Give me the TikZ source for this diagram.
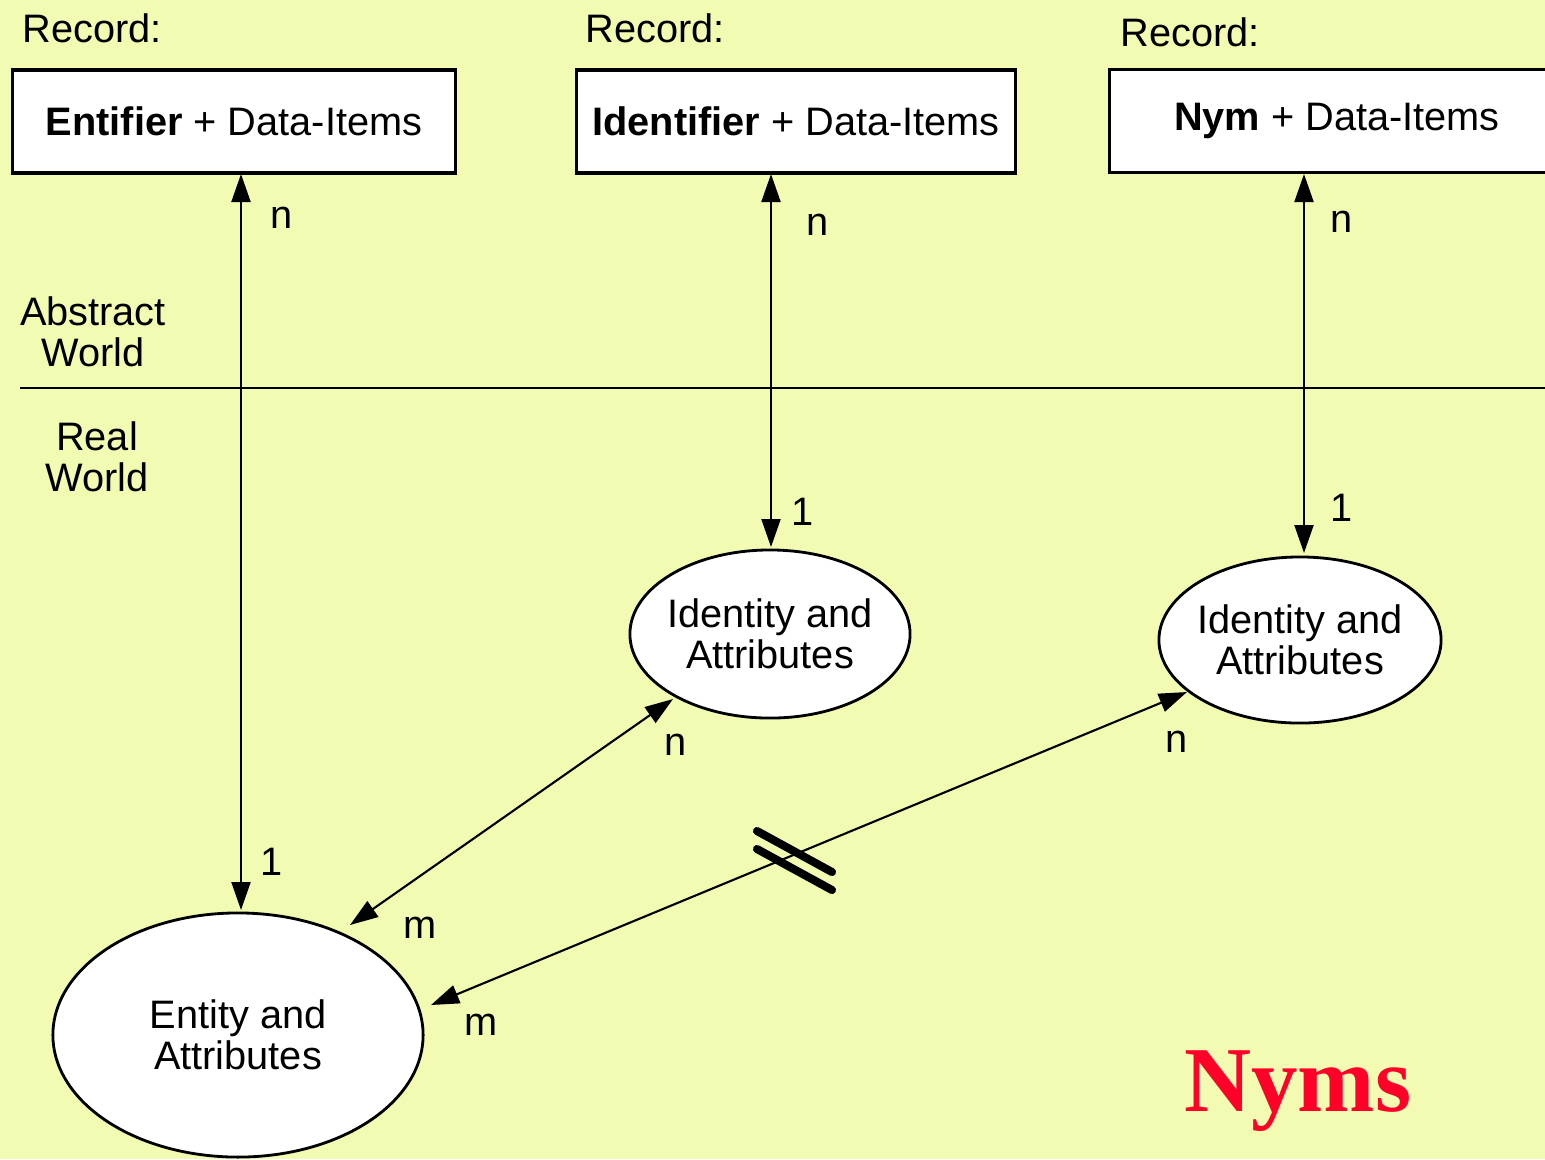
\documentclass[tikz,border=0pt]{standalone}
\usepackage{fontspec}
\setmainfont{Liberation Sans}
\newfontfamily\nymsfont{Liberation Serif}
\usetikzlibrary{shapes.geometric,arrows.meta}
\definecolor{bgyellow}{RGB}{243,250,178}
\definecolor{nymred}{RGB}{255,0,40}
\begin{document}
\begin{tikzpicture}[x=0.01cm,y=-0.01cm,
  txt/.style={font=\fontsize{11.3}{11.6}\selectfont, inner sep=0pt, align=center},
  recbox/.style={draw, line width=0.9pt, fill=white, rectangle, minimum height=1.03cm, inner sep=0pt, font=\fontsize{11.3}{11.6}\selectfont},
  ell/.style={draw, line width=0.8pt, fill=white, ellipse, inner xsep=-0.1cm, inner ysep=0pt, font=\fontsize{11.3}{11.6}\selectfont, align=center},
  conn/.style={line width=0.6pt, {Triangle[length=0.28cm,width=0.19cm]}-{Triangle[length=0.28cm,width=0.19cm]}},
  bar/.style={line width=2.3pt, line cap=round}]
\clip (0,0) rectangle (1545,1159);
\fill[bgyellow] (0,0) rectangle (1545,1159);

% boxes
\node[recbox, minimum width=4.42cm] (b1) at (234,121.5) {\textbf{Entifier} + Data-Items\hspace{0.13cm}};
\node[recbox, minimum width=4.38cm] (b2) at (796,121.5) {\textbf{Identifier} + Data-Items\hspace{0.18cm}};
\node[recbox, minimum width=4.54cm] (b3) at (1337,121) {\textbf{Nym} + Data-Items};

\node[txt, anchor=west] (r1) at (22,28) {Record:};
\node[txt, anchor=west] (r2) at (585,28) {Record:};
\node[txt, anchor=west] (r3) at (1120,32) {Record:};

% world divider
\coordinate (hl) at (20,388);
\coordinate (hr) at (1545,388);
\draw[line width=0.6pt] (hl) -- (hr);
\node[txt] (aw) at (93,332) {Abstract\\World};
\node[txt] (rw) at (97,457) {Real\\World};

% ellipses
\node[ell, minimum width=2.8cm, minimum height=1.68cm] (e2) at (770,634) {Identity and\\Attributes};
\node[ell, minimum width=2.82cm, minimum height=1.66cm] (e3) at (1300,640) {Identity and\\Attributes};
\node[ell, minimum width=3.7cm, minimum height=2.44cm] (e1) at (238,1035) {Entity and\\Attributes};

% vertical connectors
\coordinate (v1t) at (241,174);
\coordinate (v1b) at (241,910);
\coordinate (v2t) at (771,174);
\coordinate (v2b) at (771,547);
\coordinate (v3t) at (1304,174);
\coordinate (v3b) at (1304,553);
\draw[conn] (v1t) -- (v1b);
\draw[conn] (v2t) -- (v2b);
\draw[conn] (v3t) -- (v3b);

% diagonal connectors
\coordinate (d1a) at (673,699);
\coordinate (d1b) at (350,925);
\coordinate (d2a) at (1187,692);
\coordinate (d2b) at (431,1005);
\draw[conn] (d1a) -- (d1b);
\draw[conn] (d2a) -- (d2b);

% cardinality labels
\node[txt] (n1) at (282,218) {n};
\node[txt] (n2) at (818,225) {n};
\node[txt] (n3) at (1342,222) {n};
\node[txt] (o2) at (803,512) {1};
\node[txt] (o3) at (1342,508) {1};
\node[txt] (o1) at (272,862) {1};
\node[txt] (n4) at (676,745) {n};
\node[txt] (m1) at (420,928) {m};
\node[txt] (n5) at (1177,742) {n};
\node[txt] (m2) at (481,1025) {m};

% break mark
\draw[bar] (757,831) -- (832,872);
\draw[bar] (757,849) -- (832,890);

% title
\node[inner sep=0pt, text=nymred, font=\nymsfont\bfseries\fontsize{26.4}{28}\selectfont] (title) at (1298,1091) {Nyms};
\end{tikzpicture}
\end{document}
